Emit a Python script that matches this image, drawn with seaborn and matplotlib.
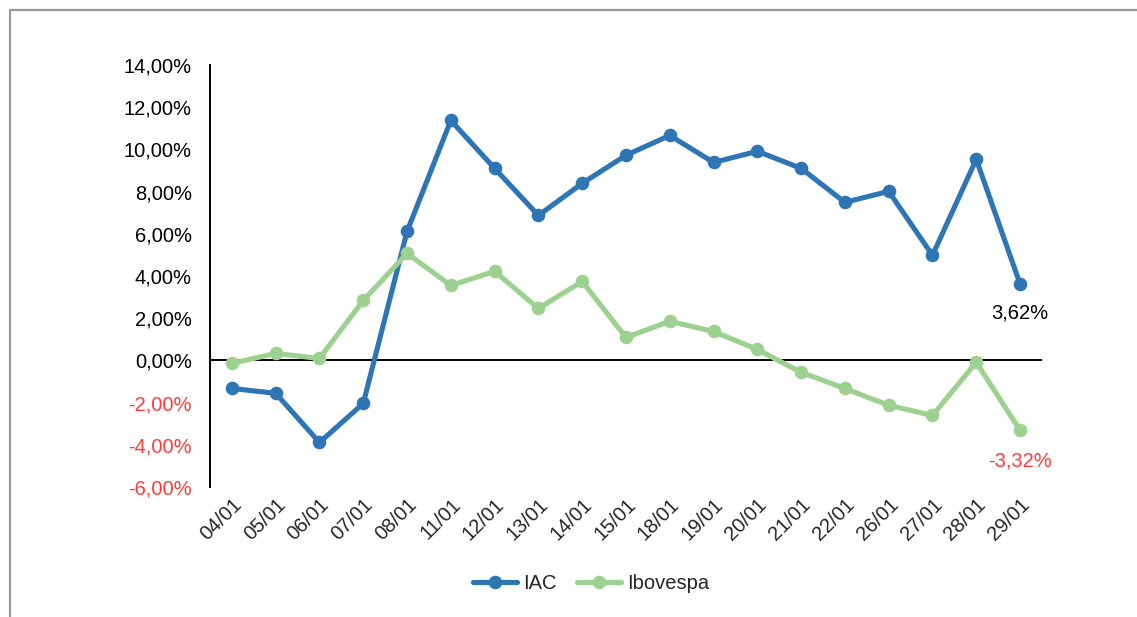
import pandas as pd
import seaborn as sns
import matplotlib.pyplot as plt
from matplotlib.lines import Line2D

dates = ["04/01", "05/01", "06/01", "07/01", "08/01", "11/01", "12/01", "13/01",
         "14/01", "15/01", "18/01", "19/01", "20/01", "21/01", "22/01", "26/01",
         "27/01", "28/01", "29/01"]

iac = [-1.33, -1.56, -3.89, -2.04, 6.11, 11.37, 9.10, 6.87, 8.39, 9.72,
       10.66, 9.38, 9.91, 9.10, 7.49, 8.01, 4.98, 9.53, 3.62]

ibovespa = [-0.14, 0.33, 0.09, 2.84, 5.07, 3.55, 4.22, 2.46, 3.74, 1.09,
            1.85, 1.37, 0.52, -0.57, -1.33, -2.13, -2.61, -0.09, -3.32]

y_ticks = [-6, -4, -2, 0, 2, 4, 6, 8, 10, 12, 14]

blue = "#2E75B6"
green = "#9DD18F"
red = "#FF3B3B"
fs = 14.5

sns.set_style("white")
plt.rcParams["font.family"] = ["Liberation Sans", "DejaVu Sans"]

df = pd.DataFrame({"data": dates, "IAC": iac, "Ibovespa": ibovespa})

fig = plt.figure(figsize=(11.37, 6.17), dpi=100)
ax = fig.add_axes([0.1847, 0.2107, 0.7317, 0.684])

sns.lineplot(data=df, x="data", y="IAC", ax=ax, color=blue, linewidth=3.7,
             marker="o", markersize=9.8, markeredgewidth=0, label="IAC", sort=False)
sns.lineplot(data=df, x="data", y="Ibovespa", ax=ax, color=green, linewidth=3.7,
             marker="o", markersize=9.8, markeredgewidth=0, label="Ibovespa", sort=False)

ax.axhline(0, color="black", linewidth=1.4, zorder=1)

ax.set_xlim(-0.5, len(dates) - 0.5)
ax.set_ylim(-6, 14)
ax.set_yticks(y_ticks)
ax.set_yticklabels([f"{v:.2f}%".replace(".", ",") for v in y_ticks], fontsize=fs)
for lab, v in zip(ax.get_yticklabels(), y_ticks):
    lab.set_color(red if v < 0 else "black")

ax.set_xticks(range(len(dates)))
ax.set_xticklabels(dates, rotation=45, ha="right", rotation_mode="anchor", fontsize=fs)
ax.tick_params(axis="both", length=0, pad=6)
ax.tick_params(axis="y", pad=13)
ax.set_xlabel("")
ax.set_ylabel("")

for s in ["top", "right", "bottom"]:
    ax.spines[s].set_visible(False)
ax.spines["left"].set_color("black")
ax.spines["left"].set_linewidth(1.4)

# rotulos do ultimo ponto
ax.annotate("3,62%", (len(dates) - 1, iac[-1]), xytext=(0, -21),
            textcoords="offset points", ha="center", va="center", fontsize=fs, color="black")
ax.annotate("-3,32%", (len(dates) - 1, ibovespa[-1]), xytext=(0, -22),
            textcoords="offset points", ha="center", va="center", fontsize=fs, color=red)

ax.legend(loc="center", bbox_to_anchor=(0.52, 0.055), bbox_transform=fig.transFigure,
          ncol=2, frameon=False, fontsize=fs, handlelength=2.2, columnspacing=1.0,
          handletextpad=0.3)

# moldura cinza
fig.add_artist(Line2D([10 / 1137, 1.0], [1 - 10 / 617, 1 - 10 / 617],
                      transform=fig.transFigure, color="#9a9a9a", linewidth=1.6))
fig.add_artist(Line2D([10 / 1137, 10 / 1137], [0.0, 1 - 10 / 617],
                      transform=fig.transFigure, color="#9a9a9a", linewidth=1.6))

fig.savefig("out.png", dpi=100)
